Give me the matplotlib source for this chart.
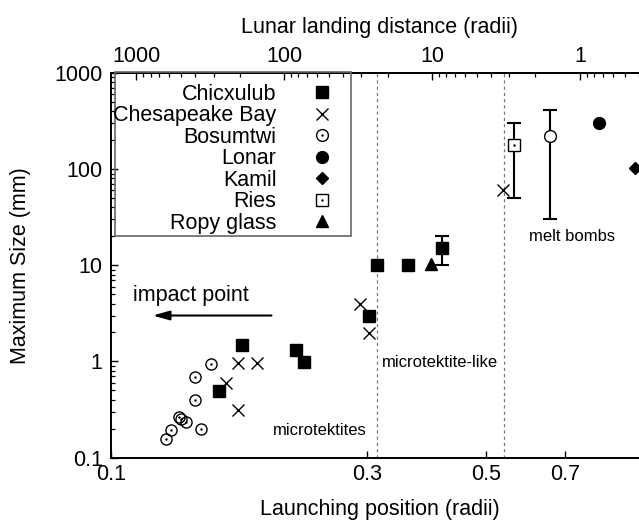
import numpy as np
import matplotlib
matplotlib.use("Agg")
import matplotlib.pyplot as plt
from matplotlib.lines import Line2D
from matplotlib.patches import Rectangle
from matplotlib.ticker import FixedLocator, FuncFormatter, LogLocator, NullFormatter, NullLocator

plt.rcParams['font.family'] = ['Liberation Sans', 'DejaVu Sans']

# ---------------- data ----------------
chicxulub_x = [0.1589, 0.1756, 0.2210, 0.2287, 0.3029, 0.3129, 0.3568, 0.414]
chicxulub_y = [0.49, 1.47, 1.30, 0.99, 2.97, 10.0, 10.0, 15.2]

chesapeake_x = [0.1637, 0.1726, 0.1726, 0.1873, 0.2909, 0.3019, 0.5362]
chesapeake_y = [0.60, 0.31, 0.97, 0.97, 4.0, 1.98, 60.8]

bosumtwi_x = [0.1264, 0.1295, 0.1340, 0.1350, 0.1377, 0.1471, 0.1434, 0.1434, 0.1535]
bosumtwi_y = [0.156, 0.193, 0.262, 0.253, 0.236, 0.198, 0.397, 0.683, 0.933]
bosumtwi_bomb_x = [0.657]
bosumtwi_bomb_y = [220]

lonar_x = [0.812]
lonar_y = [305]

kamil_x = [0.946]
kamil_y = [102]

ries_x = [0.563]
ries_y = [178]

ropy_x = [0.394]
ropy_y = [10.2]

# error bars: x, y, low, high
err_x = [0.414, 0.563, 0.657]
err_y = [15.2, 178, 220]
err_lo = [10.0, 50.5, 30.5]
err_hi = [20.3, 305, 413]

region_bounds = [0.3133, 0.5385]

x_ticks = [0.1, 0.3, 0.5, 0.7]
y_ticks = [0.1, 1, 10, 100, 1000]
top_ticks = [1000, 100, 10, 1]

# landing-distance relation  D = c * x^(-p)
LAND_C = 0.347
LAND_P = 3.63


def fwd(x):
    x = np.asarray(x, dtype=float)
    with np.errstate(divide='ignore', invalid='ignore'):
        return LAND_C * np.power(np.where(x > 0, x, np.nan), -LAND_P)


def inv(d):
    d = np.asarray(d, dtype=float)
    with np.errstate(divide='ignore', invalid='ignore'):
        return np.power(np.where(d > 0, d, np.nan) / LAND_C, -1.0 / LAND_P)


# ---------------- figure ----------------
W, H = 639, 520
fig = plt.figure(figsize=(W / 100, H / 100), dpi=100)
ax_left, ax_right = 111, 648
ax_top, ax_bot = 73, 457.5
ax = fig.add_axes([ax_left / W, (H - ax_bot) / H, (ax_right - ax_left) / W, (ax_bot - ax_top) / H])
ax.set_xscale('log')
ax.set_yscale('log')
ax.set_xlim(0.1, 1.0)
ax.set_ylim(0.1, 1000)

FS = 15.5
ms_big = 9

# region separators
for xb in region_bounds:
    ax.axvline(xb, color='#777777', lw=0.9, ls=(0, (2.5, 2.5)), zorder=1)

# error bars
yerr = [np.array(err_y) - np.array(err_lo), np.array(err_hi) - np.array(err_y)]
ax.errorbar(err_x, err_y, yerr=yerr, fmt='none', ecolor='black', elinewidth=1.5,
            capsize=5, capthick=1.5, zorder=2)

# series
ax.plot(chicxulub_x, chicxulub_y, 's', color='black', ms=ms_big, zorder=3)
ax.plot(chesapeake_x, chesapeake_y, 'x', color='black', ms=ms_big, mew=1.0, zorder=3)
ax.plot(bosumtwi_x, bosumtwi_y, 'o', mfc='none', mec='black', ms=8, mew=1.0, zorder=3)
ax.plot(bosumtwi_x, bosumtwi_y, '.', color='black', ms=1.5, zorder=4)
ax.plot(bosumtwi_bomb_x, bosumtwi_bomb_y, 'o', mfc='white', mec='black', ms=8.5, mew=1.0, zorder=3)
ax.plot(lonar_x, lonar_y, 'o', color='black', ms=8.5, zorder=3)
ax.plot(kamil_x, kamil_y, 'D', color='black', ms=6.5, zorder=3)
ax.plot(ries_x, ries_y, 's', mfc='white', mec='black', ms=ms_big, mew=1.0, zorder=3)
ax.plot(ries_x, ries_y, '.', color='black', ms=1.5, zorder=4)
ax.plot(ropy_x, ropy_y, '^', color='black', ms=8, zorder=3)

# annotations
ax.text(0.11, 4.9, 'impact point', fontsize=FS, ha='left', va='center')
ax.annotate('', xy=(0.1196, 3.0), xytext=(0.199, 3.0),
            arrowprops=dict(arrowstyle='-|>,head_length=1.0,head_width=0.28', color='black', lw=1.5,
                            shrinkA=0, shrinkB=0))
ax.text(0.200, 0.193, 'microtektites', fontsize=12, ha='left', va='center')
ax.text(0.319, 0.98, 'microtektite-like', fontsize=12, ha='left', va='center')
ax.text(0.600, 19.8, 'melt bombs', fontsize=12, ha='left', va='center')

# axes styling
for s in ax.spines.values():
    s.set_linewidth(1.4)
ax.xaxis.set_major_locator(FixedLocator(x_ticks))
ax.xaxis.set_major_formatter(FuncFormatter(lambda v, p: f'{v:g}'))
ax.xaxis.set_minor_locator(NullLocator())
ax.yaxis.set_major_locator(FixedLocator(y_ticks))
ax.yaxis.set_major_formatter(FuncFormatter(lambda v, p: f'{v:g}'))
ax.yaxis.set_minor_locator(LogLocator(base=10, subs=np.arange(2, 10)))
ax.yaxis.set_minor_formatter(NullFormatter())
ax.tick_params(axis='both', which='major', direction='in', length=5, width=1.0, labelsize=FS)
ax.tick_params(axis='x', which='major', pad=5, top=False)
ax.tick_params(axis='y', which='major', pad=6, right=False)
ax.tick_params(axis='y', which='minor', direction='in', length=3, width=0.9, right=False)

ax.set_xlabel('Launching position (radii)', fontsize=FS, labelpad=10)
ax.set_ylabel('Maximum Size (mm)', fontsize=FS, labelpad=17)

secax = ax.secondary_xaxis('top', functions=(fwd, inv))
secax.xaxis.set_major_locator(FixedLocator(top_ticks))
secax.xaxis.set_major_formatter(FuncFormatter(lambda v, p: f'{v:g}'))
secax.xaxis.set_minor_locator(LogLocator(base=10, subs=np.arange(2, 10)))
secax.xaxis.set_minor_formatter(NullFormatter())
secax.tick_params(axis='x', which='major', direction='in', length=5, width=1.0, labelsize=FS, pad=4)
secax.tick_params(axis='x', which='minor', direction='in', length=3, width=0.9)
secax.spines['top'].set_linewidth(1.4)
secax.set_xlabel('Lunar landing distance (radii)', fontsize=FS, labelpad=10)

# legend
dot = dict(marker='.', color='black', ms=1.5, ls='none')
handles = [
    Line2D([], [], marker='s', color='black', ms=ms_big, ls='none'),
    Line2D([], [], marker='x', color='black', ms=ms_big, mew=1.0, ls='none'),
    (Line2D([], [], marker='o', mfc='none', mec='black', ms=8.5, mew=1.0, ls='none'), Line2D([], [], **dot)),
    Line2D([], [], marker='o', color='black', ms=8.5, ls='none'),
    Line2D([], [], marker='D', color='black', ms=6.5, ls='none'),
    (Line2D([], [], marker='s', mfc='none', mec='black', ms=ms_big, mew=1.0, ls='none'), Line2D([], [], **dot)),
    Line2D([], [], marker='^', color='black', ms=8, ls='none'),
]
labels = ['Chicxulub', 'Chesapeake Bay', 'Bosumtwi', 'Lonar', 'Kamil', 'Ries', 'Ropy glass']
leg = ax.legend(handles, labels, markerfirst=False, frameon=False, fontsize=FS,
                handlelength=1.0, handletextpad=1.6, labelspacing=0.025,
                loc='upper right', borderpad=0, borderaxespad=0,
                bbox_to_anchor=((332.5 - ax_left) / (ax_right - ax_left), (ax_bot - 83.5) / (ax_bot - ax_top)))
leg.set_zorder(5)
ax.add_patch(Rectangle(((115 - ax_left) / (ax_right - ax_left), (ax_bot - 236) / (ax_bot - ax_top)),
                       (351 - 115) / (ax_right - ax_left), (236 - 72.5) / (ax_bot - ax_top),
                       transform=ax.transAxes, fill=False, edgecolor='#666666', lw=1.2, zorder=5,
                       clip_on=False))

fig.savefig('out.png', dpi=100)
